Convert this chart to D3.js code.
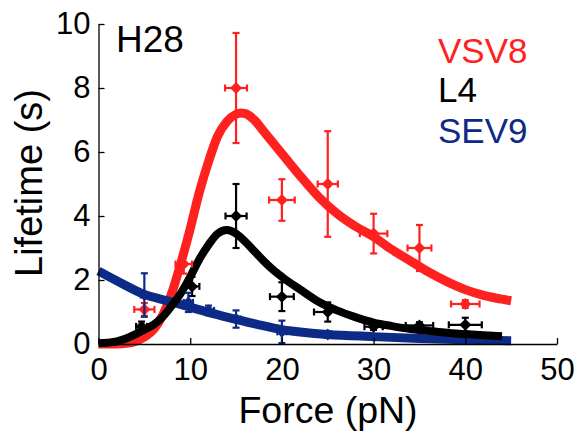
<!DOCTYPE html>
<html>
<head>
<meta charset="utf-8">
<script src="https://cdn.jsdelivr.net/npm/d3@7"></script>
<style>
  body { margin: 0; background: #fff; }
  svg text { font-family: "Liberation Sans", Arial, Helvetica, sans-serif; }
</style>
</head>
<body>
<div class="chart"></div>
<script>
// measured points (force in pN, lifetime in s)
var vsvForce = [5, 9.3, 15, 20, 25, 30, 35, 40],
    vsvLife = [1.08, 2.5, 8.0, 4.5, 5.0, 3.45, 3.0, 1.25],
    vsvForceErr = [1.1, 0.9, 1.2, 1.4, 1.1, 1.5, 1.3, 1.55],
    vsvLifeErr = [0.2, 0.3, 1.72, 0.65, 1.65, 0.62, 0.72, 0.12];

var l4Force = [4.7, 10.2, 15, 20, 25, 30, 35, 40],
    l4Life = [0.55, 1.8, 4.0, 1.48, 1.0, 0.54, 0.58, 0.6],
    l4ForceErr = [0.6, 0.8, 1.15, 1.3, 1.5, 1.0, 1.5, 1.8],
    l4LifeErr = [0.15, 0.3, 1.0, 0.45, 0.3, 0.1, 0.1, 0.22];

var sevForce = [5, 9.8, 12, 15, 20, 25],
    sevLife = [1.53, 1.3, 1.05, 0.78, 0.38, 0.3],
    sevForceErr = [0.4, 0.5, 0.6, 0.5, 0.5, 0.5],
    sevLifeErr = [0.68, 0.3, 0.15, 0.27, 0.35, 0.1];

// fitted curves
var vsvFitForce = [0, 2, 3, 4, 5, 6, 7, 8, 9, 10, 11, 12, 13, 14, 15, 15.5, 16, 17, 18, 19, 20, 22, 24, 26, 28, 30, 32, 34, 36, 38, 40, 42, 44, 45],
    vsvFitLife = [0, 0, 0.02, 0.08, 0.22, 0.45, 0.9, 1.6, 2.55, 3.6, 4.75, 5.7, 6.5, 6.95, 7.18, 7.22, 7.2, 7.0, 6.65, 6.3, 5.95, 5.25, 4.6, 4.08, 3.68, 3.35, 2.95, 2.6, 2.25, 1.95, 1.7, 1.52, 1.4, 1.35];

var l4FitForce = [0, 1, 2, 3, 4, 5, 6, 7, 8, 9, 10, 11, 12, 13, 14, 15, 16, 17, 18, 19, 20, 22, 24, 26, 28, 30, 32, 34, 36, 38, 40, 42, 44],
    l4FitLife = [0.02, 0.04, 0.08, 0.17, 0.3, 0.45, 0.6, 0.85, 1.2, 1.6, 2.1, 2.65, 3.1, 3.45, 3.56, 3.45, 3.2, 2.9, 2.6, 2.33, 2.1, 1.7, 1.32, 1.05, 0.84, 0.67, 0.56, 0.47, 0.41, 0.35, 0.31, 0.27, 0.24];

var sevFitForce = [0, 2.5, 5, 7.5, 10, 12.5, 15, 17.5, 20, 22.5, 25, 30, 35, 40, 45],
    sevFitLife = [2.28, 1.9, 1.55, 1.35, 1.15, 0.95, 0.77, 0.6, 0.45, 0.36, 0.3, 0.23, 0.17, 0.13, 0.1];

var xTicks = [0, 10, 20, 30, 40, 50],
    yTicks = [0, 2, 4, 6, 8, 10];

var legendNames = ["VSV8", "L4", "SEV9"],
    red = "#ff2020", blue = "#0c2a86";

var width = 579, height = 437;

var x = d3.scaleLinear()
    .domain([0, 50])
    .range([98.5, 557]);

var y = d3.scaleLinear()
    .domain([0, 10])
    .range([344, 24]);

var svg = d3.select(".chart").append("svg")
    .attr("width", width)
    .attr("height", height);

function zip(a, b) {
    return a.map(function (d, i) { return [d, b[i]]; });
}

var line = d3.line()
    .x(function (d) { return x(d[0]); })
    .y(function (d) { return y(d[1]); })
    .curve(d3.curveMonotoneX);

// Fitted curves
var fits = [
    { pts: zip(vsvFitForce, vsvFitLife), color: red, w: 9 },
    { pts: zip(sevFitForce, sevFitLife), color: blue, w: 9 },
    { pts: zip(l4FitForce, l4FitLife), color: "#000", w: 8 }
];

svg.selectAll("path.fit")
    .data(fits)
    .enter().append("path")
    .attr("class", "fit")
    .attr("d", function (d) { return line(d.pts); })
    .attr("fill", "none")
    .attr("stroke", function (d) { return d.color; })
    .attr("stroke-width", function (d) { return d.w; })
    .attr("stroke-linejoin", "round");

// Error bars with diamond markers
function drawPoints(fx, fy, ex, ey, color) {
    var g = svg.append("g")
        .attr("stroke", color)
        .attr("fill", color)
        .attr("stroke-width", 2.2);
    var cap = 3.5;
    fx.forEach(function (f, i) {
        var cx = x(f), cy = y(fy[i]);
        var x0 = x(f - ex[i]), x1 = x(f + ex[i]);
        var y0 = y(fy[i] + ey[i]), y1 = y(fy[i] - ey[i]);
        g.append("line").attr("x1", x0).attr("x2", x1).attr("y1", cy).attr("y2", cy);
        g.append("line").attr("x1", cx).attr("x2", cx).attr("y1", y0).attr("y2", y1);
        g.append("line").attr("x1", x0).attr("x2", x0).attr("y1", cy - cap).attr("y2", cy + cap);
        g.append("line").attr("x1", x1).attr("x2", x1).attr("y1", cy - cap).attr("y2", cy + cap);
        g.append("line").attr("x1", cx - cap).attr("x2", cx + cap).attr("y1", y0).attr("y2", y0);
        g.append("line").attr("x1", cx - cap).attr("x2", cx + cap).attr("y1", y1).attr("y2", y1);
        g.append("path")
            .attr("d", d3.symbol(d3.symbolSquare, 72)())
            .attr("stroke", "none")
            .attr("transform", "translate(" + cx + "," + cy + ") rotate(45)");
    });
}

drawPoints(vsvForce, vsvLife, vsvForceErr, vsvLifeErr, red);
drawPoints(l4Force, l4Life, l4ForceErr, l4LifeErr, "#000");
drawPoints(sevForce, sevLife, sevForceErr, sevLifeErr, blue);

// Axes, ticks pointing inward
var xAxis = svg.append("g")
    .attr("transform", "translate(0," + y(0) + ")")
    .call(d3.axisBottom(x).tickValues(xTicks).tickSizeInner(-6).tickSizeOuter(0).tickPadding(14));

var yAxis = svg.append("g")
    .attr("transform", "translate(" + x(0) + ",0)")
    .call(d3.axisLeft(y).tickValues(yTicks).tickSizeInner(-6).tickSizeOuter(0).tickPadding(8));

[xAxis, yAxis].forEach(function (a) {
    a.selectAll("path, line").attr("stroke", "#000").attr("stroke-width", 1.3);
    a.selectAll("text").attr("font-size", 31).attr("fill", "#000")
        .style("font-family", "'Liberation Sans', Arial, Helvetica, sans-serif");
});

// Axis titles
svg.append("text")
    .attr("x", 328)
    .attr("y", 423)
    .attr("text-anchor", "middle")
    .attr("font-size", 37.5)
    .text("Force (pN)");

svg.append("text")
    .attr("transform", "translate(42," + 183 + ") rotate(-90)")
    .attr("text-anchor", "middle")
    .attr("font-size", 38)
    .text("Lifetime (s)");

// Panel label and legend
svg.append("text")
    .attr("x", 116)
    .attr("y", 52)
    .attr("font-size", 37)
    .text("H28");

svg.selectAll("text.legend")
    .data(legendNames)
    .enter().append("text")
    .attr("class", "legend")
    .attr("x", 438)
    .attr("y", function (d, i) { return [63, 102, 143][i]; })
    .attr("font-size", 35)
    .attr("fill", function (d, i) { return [red, "#000", blue][i]; })
    .text(function (d) { return d; });
</script>
</body>
</html>
